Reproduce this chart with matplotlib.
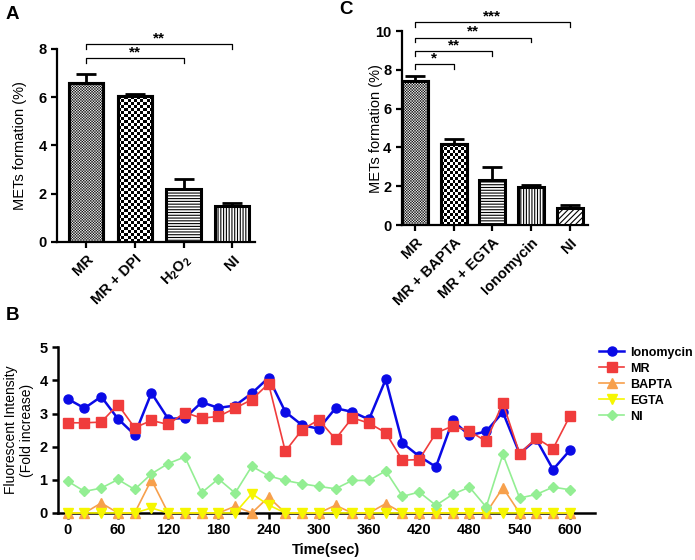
import numpy as np
import matplotlib
matplotlib.use("Agg")
import matplotlib.pyplot as plt

plt.rcParams["font.family"] = ["Liberation Sans", "DejaVu Sans"]
plt.rcParams["mathtext.fontset"] = "custom"
plt.rcParams["mathtext.bf"] = "Liberation Sans:bold"
plt.rcParams["mathtext.rm"] = "Liberation Sans:bold"
plt.rcParams["hatch.linewidth"] = 0.8

# ── Data ──────────────────────────────────────────────────────────────────────
a_labels = ["MR", "MR + DPI", "H$_\\mathbf{2}$O$_\\mathbf{2}$", "NI"]
a_means  = [6.58, 6.03, 2.19, 1.48]
a_err    = [0.39, 0.11, 0.42, 0.13]
a_fill   = ["fine", "coarse", "------", "||||||"]
a_sig    = [(0, 2, 7.61, "**"), (0, 3, 8.20, "**")]

c_labels = ["MR", "MR + BAPTA", "MR + EGTA", "Ionomycin", "NI"]
c_means  = [7.42, 4.16, 2.32, 1.94, 0.86]
c_err    = [0.26, 0.26, 0.68, 0.12, 0.17]
c_fill   = ["fine", "coarse", "------", "||||||", "//////"]
c_sig    = [(0, 1, 8.28, "*"), (0, 2, 8.97, "**"), (0, 3, 9.66, "**"), (0, 4, 10.45, "***")]

time_s = [0, 20, 40, 60, 80, 100, 120, 140, 160, 180, 200, 220, 240, 260, 280, 300,
          320, 340, 360, 380, 400, 420, 440, 460, 480, 500, 520, 540, 560, 580, 600]
ionomycin = [3.44, 3.16, 3.51, 2.84, 2.36, 3.62, 2.84, 2.86, 3.34, 3.17, 3.24, 3.61,
             4.08, 3.05, 2.65, 2.54, 3.16, 3.05, 2.82, 4.03, 2.11, 1.71, 1.39, 2.79,
             2.34, 2.46, 3.04, 1.79, 2.22, 1.31, 1.89]
mr = [2.72, 2.72, 2.74, 3.27, 2.57, 2.79, 2.67, 3.03, 2.86, 2.91, 3.16, 3.42, 3.90,
      1.86, 2.51, 2.81, 2.23, 2.87, 2.71, 2.42, 1.59, 1.61, 2.41, 2.62, 2.47, 2.16,
      3.32, 1.79, 2.26, 1.94, 2.92]
bapta = [0, 0, 0.30, 0, 0, 1.00, 0, 0, 0, 0, 0.20, 0, 0.48, 0, 0, 0, 0.23, 0, 0,
         0.28, 0, 0, 0, 0, 0, 0, 0.76, 0, 0, 0, 0]
egta = [0, 0, 0, 0, 0, 0.15, 0, 0, 0, 0, 0, 0.58, 0.24, 0, 0, 0, 0, 0, 0, 0, 0, 0,
        0, 0, 0, 0, 0, 0, 0, 0, 0]
ni = [0.96, 0.65, 0.75, 1.01, 0.71, 1.18, 1.49, 1.69, 0.61, 1.03, 0.60, 1.41, 1.12,
      0.98, 0.88, 0.80, 0.73, 0.98, 0.98, 1.27, 0.50, 0.63, 0.23, 0.56, 0.78, 0.18,
      1.77, 0.45, 0.56, 0.78, 0.70]

fig = plt.figure(figsize=(6.95, 5.6), dpi=100)


def style_axes(ax, lw=1.6):
    for s in ["top", "right"]:
        ax.spines[s].set_visible(False)
    for s in ["left", "bottom"]:
        ax.spines[s].set_linewidth(lw)
    ax.tick_params(width=lw, length=4, labelsize=10.5)
    for lab in ax.get_yticklabels():
        lab.set_fontweight("bold")


def bar_panel(ax, labels, means, err, fills, sigs, xlim, ylim, yticks, width, tick_dy):
    x = np.arange(len(means))
    ax.set_xlim(*xlim)
    ax.set_ylim(*ylim)
    bars = ax.bar(x, means, width=width, facecolor="white", edgecolor="black",
                  linewidth=2.2, zorder=3)
    for b, f in zip(bars, fills):
        if f in ("fine", "coarse"):
            # checkerboard texture, clipped to the bar
            cell = 1.35 if f == "fine" else 3.0
            ext = b.get_window_extent()
            nx = max(1, int(round(ext.width / cell)))
            ny = max(1, int(round(ext.height / cell)))
            chk = np.add.outer(np.arange(ny), np.arange(nx)) % 2
            x0 = b.get_x()
            ax.imshow(chk, cmap="gray", extent=(x0, x0 + b.get_width(), 0, b.get_height()),
                      aspect="auto", interpolation="antialiased" if f == "fine" else "nearest",
                      clip_path=b, zorder=3.2)
            edge = plt.Rectangle((x0, 0), b.get_width(), b.get_height(), fill=False,
                                 edgecolor="black", linewidth=2.2, zorder=3.5)
            ax.add_patch(edge)
        else:
            b.set_hatch(f)
    ax.errorbar(x, means, yerr=[np.zeros(len(err)), err], fmt="none", ecolor="black",
                elinewidth=2.0, capsize=7, capthick=2.0, zorder=2.5)
    ax.set_xlim(*xlim)
    ax.set_ylim(*ylim)
    ax.set_yticks(yticks)
    ax.set_xticks(x)
    ax.set_xticklabels(labels, rotation=45, ha="right", va="top",
                       rotation_mode="anchor", fontweight="bold", fontsize=10.5)
    ax.set_ylabel("METs formation (%)", fontsize=10.5)
    style_axes(ax)
    for i, j, y, star in sigs:
        ax.plot([i, i, j, j], [y - tick_dy, y, y, y - tick_dy], color="black",
                lw=0.9, clip_on=False)
        ax.text((i + j) / 2, y - 0.05, star, ha="center", va="bottom", fontsize=11,
                fontweight="bold")


# ── Panel A ───────────────────────────────────────────────────────────────────
axA = fig.add_axes([0.082, 0.568, 0.285, 0.345])
bar_panel(axA, a_labels, a_means, a_err, a_fill, a_sig, (-0.6, 3.47), (0, 8),
          [0, 2, 4, 6, 8], 0.70, 0.22)
axA.yaxis.set_label_coords(-0.15, 0.5)

# ── Panel C ───────────────────────────────────────────────────────────────────
axC = fig.add_axes([0.578, 0.598, 0.2685, 0.3466])
bar_panel(axC, c_labels, c_means, c_err, c_fill, c_sig, (-0.34, 4.48), (0, 10),
          [0, 2, 4, 6, 8, 10], 0.67, 0.25)
axC.yaxis.set_label_coords(-0.10, 0.5)

# ── Panel B ───────────────────────────────────────────────────────────────────
axB = fig.add_axes([0.0835, 0.084, 0.7725, 0.296])
series = [
    ("Ionomycin", ionomycin, "#0a0ae6", "o", 1.8),
    ("MR", mr, "#f03c3c", "s", 1.2),
    ("BAPTA", bapta, "#f7a04c", "^", 1.2),
    ("EGTA", egta, "#f6f600", "v", 1.2),
    ("NI", ni, "#93ee93", "D", 1.2),
]
for name, vals, col, mk, lw in series:
    axB.plot(time_s, vals, color=col, marker=mk, markersize=6.5 if mk != "D" else 5.5,
             lw=lw, label=name, clip_on=False, zorder=3)
axB.set_xlim(-11.6, 630)
axB.set_ylim(0, 5)
axB.set_xticks(list(range(0, 601, 60)))
axB.set_yticks([0, 1, 2, 3, 4, 5])
style_axes(axB, lw=1.8)
for lab in axB.get_xticklabels():
    lab.set_fontweight("bold")
axB.set_xlabel("Time(sec)", fontsize=10.5, fontweight="bold", labelpad=4)
axB.set_ylabel("Fluorescent Intensity\n(Fold increase)", fontsize=10)
axB.yaxis.set_label_coords(-0.045, 0.5)
fig.legend(*axB.get_legend_handles_labels(), loc="upper left",
           bbox_to_anchor=(0.862, 0.381), frameon=False, handlelength=2.0,
           handletextpad=0.45, labelspacing=0.32, borderpad=0, borderaxespad=0,
           prop={"weight": "bold", "size": 9})

# ── Panel letters ─────────────────────────────────────────────────────────────
for lbl, xy in [("A", (0.008, 0.99)), ("C", (0.488, 0.998)), ("B", (0.008, 0.452))]:
    fig.text(xy[0], xy[1], lbl, fontsize=13.5, fontweight="bold", ha="left", va="top")

fig.savefig("out.png", dpi=100)
